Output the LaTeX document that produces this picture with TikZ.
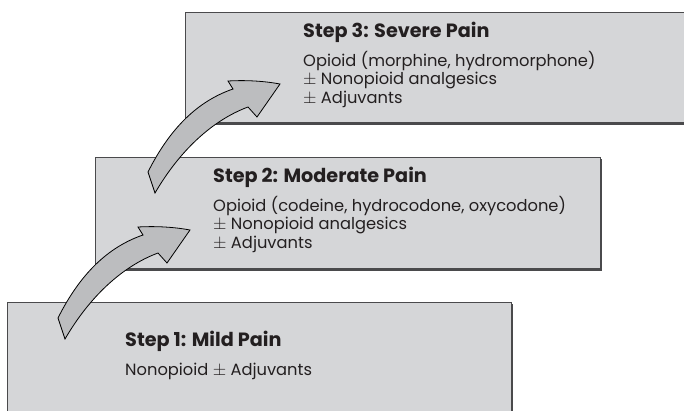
\documentclass[tikz,border=0pt]{standalone}
\usepackage{fontspec}
\setmainfont{Poppins}
\usepackage{tikz}
\usetikzlibrary{positioning,calc}
\definecolor{boxfill}{HTML}{D5D6D8}
\definecolor{boxline}{HTML}{4A4A4C}
\definecolor{arrowfill}{HTML}{BCBDBF}
\definecolor{inktext}{HTML}{231F20}

\tikzset{
    stepbox/.style={draw=boxline,line width=0.8pt,fill=boxfill,
          anchor=north west,inner sep=0pt},
    stepshadow/.style={fill=boxline,anchor=north west,inner sep=0pt},
    steptitle/.style={anchor=base west,inner sep=0pt,text=inktext,
          font=\fontsize{19.2}{21}\selectfont\bfseries},
    steplines/.style={anchor=base west,inner sep=0pt,text=inktext,
          font=\fontsize{16.3}{18.3}\selectfont},
    bentarrow/.style={draw=black,line width=0.8pt,fill=arrowfill,line join=miter}
}
\newcommand{\plusminus}{{\fontsize{17}{18}\selectfont$\pm$}}
\newcommand{\druglist}[1]{\begin{tabular}[t]{@{}l@{}}#1\end{tabular}}
\newcommand{\bentshape}{%
    (148,172) .. controls (170,128) and (198,101) .. (233,89)
    -- (228,81) .. controls (246,80) and (264,81) .. (280,84)
    -- (257,117) -- (248,107)
    .. controls (213,120) and (180,150) .. (155,193) -- cycle}

\begin{document}
\begin{tikzpicture}[x=1pt,y=-1pt]
    \useasboundingbox (0,0) rectangle (684,410);
    \clip (0,0) rectangle (684,410);

    % the three steps, back to front
    \node[stepshadow,minimum width=520pt,minimum height=111pt] (s3shadow) at (186.5,13.5) {};
    \node[stepbox,minimum width=520pt,minimum height=110pt] (s3box) at (185,12) {};
    \node[stepshadow,minimum width=505pt,minimum height=112pt] (s2shadow) at (96.5,158.5) {};
    \node[stepbox,minimum width=505pt,minimum height=111pt] (s2box) at (95,157) {};
    \node[stepshadow,minimum width=504pt,minimum height=130pt] (s1shadow) at (8.5,303.5) {};
    \node[stepbox,minimum width=504pt,minimum height=130pt] (s1box) at (7,302) {};

    % step 3
    \node[steptitle] (s3title) at (303,37) {Step 3: Severe Pain};
    \node[steplines] (s3drugs) at (303,66.5) {\druglist{Opioid (morphine, hydromorphone)\\
        \plusminus\ Nonopioid analgesics\\ \plusminus\ Adjuvants}};

    % step 2
    \node[steptitle] (s2title) at (213,182) {Step 2: Moderate Pain};
    \node[steplines] (s2drugs) at (213,211.5) {\druglist{Opioid (codeine, hydrocodone, oxycodone)\\
        \plusminus\ Nonopioid analgesics\\ \plusminus\ Adjuvants}};

    % step 1
    \node[steptitle] (s1title) at (125,346) {Step 1: Mild Pain};
    \node[steplines] (s1drugs) at (125,375) {Nonopioid \plusminus\ Adjuvants};

    % bent arrows between the steps
    \draw[bentarrow] \bentshape;
    \begin{scope}[shift={(-90,146)}]
        \draw[bentarrow] \bentshape;
    \end{scope}
\end{tikzpicture}
\end{document}
